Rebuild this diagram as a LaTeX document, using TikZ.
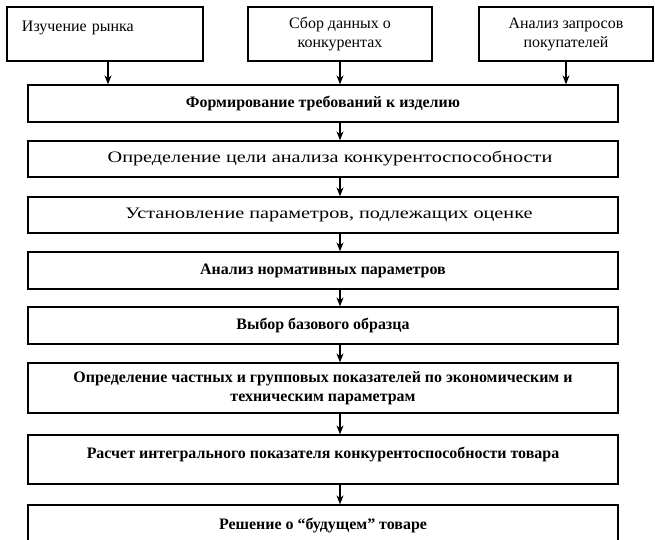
\documentclass[tikz,border=0pt]{standalone}
\usepackage{fontspec}
\setmainfont{Liberation Serif}
\usetikzlibrary{arrows.meta}
\tikzset{
  box/.style={draw, line width=1.3bp, inner sep=3bp, align=center},
  topbox/.style={box, minimum height=54bp, font=\fontsize{16}{19}\selectfont},
  mainbox/.style={box, minimum width=590bp, font=\fontsize{16}{19}\selectfont\bfseries},
  wide/.style={font=\fontsize{16}{19}\selectfont\addfontfeature{FakeStretch=1.27}},
  arr/.style={-{Stealth[length=9bp,width=7bp]}, line width=1.2bp}
}
\begin{document}
\begin{tikzpicture}[x=1bp, y=-1bp]
  \useasboundingbox (0,0) rectangle (655,540);
  % sources
  \node[topbox, minimum width=196bp, text width=166bp, align=left] (h1) at (105,34)
    {\raisebox{2bp}[0pt][0pt]{Изучение рынка}};
  \node[topbox, minimum width=184bp] (h2) at (340,34) {Сбор данных о\\конкурентах};
  \node[topbox, minimum width=174bp] (h3) at (566,34) {Анализ запросов\\покупателей};
  % chain
  \node[mainbox, minimum height=37bp] (f1) at (323,103.5) {Формирование требований к изделию};
  \node[mainbox, wide, minimum height=36bp] (f2) at (323,159) {\hspace*{14bp}Определение цели анализа конкурентоспособности};
  \node[mainbox, wide, minimum height=36bp] (f3) at (323,215) {\hspace*{12bp}Установление параметров, подлежащих оценке};
  \node[mainbox, minimum height=37bp] (f4) at (323,270.5) {Анализ нормативных параметров};
  \node[mainbox, minimum height=37bp] (f5) at (323,325.5) {Выбор базового образца};
  \node[mainbox, minimum height=50bp] (f6) at (323,388)
    {Определение частных и групповых показателей по экономическим и\\техническим параметрам};
  \node[mainbox, minimum height=49bp] (f7) at (323,459.5)
    {\raisebox{1.5bp}[0pt][0pt]{Расчет интегрального показателя конкурентоспособности товара}};
  \node[mainbox, minimum height=50bp] (f8) at (323,530)
    {\raisebox{1bp}[0pt][0pt]{Решение о “будущем” товаре}};
    \draw[arr] (h1.south -| 108,0) -- (f1.north -| 108,0);
    \draw[arr] (h2.south) -- (h2.south |- f1.north);
    \draw[arr] (h3.south) -- (h3.south |- f1.north);
    \draw[arr] (f1.south -| h2) -- (f2.north -| h2);
    \draw[arr] (f2.south -| h2) -- (f3.north -| h2);
    \draw[arr] (f3.south -| h2) -- (f4.north -| h2);
    \draw[arr] (f4.south -| h2) -- (f5.north -| h2);
    \draw[arr] (f5.south -| h2) -- (f6.north -| h2);
    \draw[arr] (f6.south -| h2) -- (f7.north -| h2);
    \draw[arr] (f7.south -| h2) -- (f8.north -| h2);
\end{tikzpicture}
\end{document}
